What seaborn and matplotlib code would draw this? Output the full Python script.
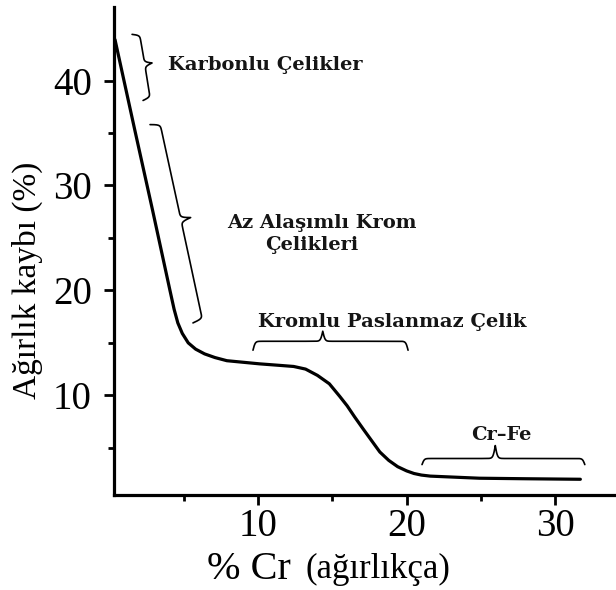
import numpy as np
import pandas as pd
import matplotlib
matplotlib.use("Agg")
import matplotlib.pyplot as plt
import seaborn as sns

# Weight loss (%) versus chromium content (wt %)
cr_content = [0.37, 1.70, 2.89, 4.07, 4.35, 4.6, 4.9, 5.3, 5.8, 6.4, 7.1, 7.9, 10.1,
              11.5, 12.4, 13.2, 14.0, 14.8, 15.5, 16.0, 16.5, 17.1, 18.2, 18.8,
              19.4, 20.0, 20.5, 21.0, 21.6, 24.9, 28.0, 31.7]
weight_loss = [43.9, 35.3, 27.7, 20.0, 18.2, 16.9, 15.9, 15.0, 14.4, 13.95, 13.6, 13.3,
               13.0, 12.85, 12.75, 12.5, 11.9, 11.1, 9.9, 9.0, 7.95, 6.75, 4.6,
               3.8, 3.2, 2.8, 2.55, 2.4, 2.3, 2.1, 2.05, 2.0]

# Steel groups: label text and anchor (data units)
group_labels = ["Karbonlu Çelikler", "Az Alaşımlı Krom", "Çelikleri",
                "Kromlu Paslanmaz Çelik", "Cr–Fe"]
label_x = [3.94, 7.9, 10.5, 10.0, 26.4]
label_y = [41.5, 26.4, 24.3, 17.0, 6.2]
label_ha = ["left", "left", "left", "left", "center"]

# Braces: chord end points (data units), tip height (px), body share, tip position
brace_start = [(1.52, 44.4), (2.73, 35.8), (9.66, 14.3), (21.04, 3.4)]
brace_end = [(2.26, 38.1), (5.62, 16.9), (20.1, 14.3), (32.0, 3.4)]
brace_height = [15, 20, 19, 19]
brace_body = [0.5, 0.5, 0.47, 0.32]
brace_tip = [0.47, 0.49, 0.45, 0.45]

x_ticks = [10, 20, 30]
x_minor = [5, 15, 25]
y_ticks = [10, 20, 30, 40]
y_minor = [5, 15, 25, 35]

sns.set_theme(style="white")
plt.rcParams["font.family"] = ["Liberation Serif", "DejaVu Serif"]

fig = plt.figure(figsize=(6.16, 5.90), dpi=100)
ax = fig.add_axes([0.185, 0.161, 0.815, 0.827])

df = pd.DataFrame({"cr": cr_content, "loss": weight_loss})
sns.lineplot(data=df, x="cr", y="loss", ax=ax, color="black", linewidth=2.3,
             estimator=None, sort=False)
ax.lines[0].set_solid_joinstyle("round")

ax.set_xlim(0.3, 34.1)
ax.set_ylim(0.5, 47.0)

ax.set_xticks(x_ticks)
ax.set_xticks(x_minor, minor=True)
ax.set_yticks(y_ticks)
ax.set_yticks(y_minor, minor=True)
ax.tick_params(axis="both", which="major", direction="out", length=7, width=2,
               labelsize=28, color="black", labelcolor="black")
ax.tick_params(axis="y", which="major", pad=9)
ax.tick_params(axis="x", which="major", pad=2)
ax.tick_params(axis="both", which="minor", direction="out", length=4.5, width=2,
               color="black")
ax.tick_params(axis="x", which="both", bottom=True)
ax.tick_params(axis="y", which="both", left=True)

for side in ["top", "right"]:
    ax.spines[side].set_visible(False)
for side in ["left", "bottom"]:
    ax.spines[side].set_linewidth(2.3)
    ax.spines[side].set_color("black")

ax.set_ylabel("Ağırlık kaybı (%)", fontsize=24, color="black")
ax.yaxis.set_label_coords(-0.142, 0.44)
ax.set_xlabel("")

# x-axis title in two sizes
ax.text(0.186, -0.172, "% Cr", transform=ax.transAxes, fontsize=29,
        ha="left", va="baseline", color="black", clip_on=False)
ax.text(0.381, -0.170, "(ağırlıkça)", transform=ax.transAxes, fontsize=25,
        ha="left", va="baseline", color="black", clip_on=False)

for txt, tx, ty, ha in zip(group_labels, label_x, label_y, label_ha):
    ax.text(tx, ty, txt, fontsize=14, fontweight="bold", ha=ha, va="center",
            family=["DejaVu Serif"], color="#151515")

fig.canvas.draw()
to_disp = ax.transData
to_data = ax.transData.inverted()


def brace_profile(s, length, body, beta):
    # rising hook at s=0 up to the body level, then up to the tip at s=length
    return (body * np.tanh(beta * s / 2)
            + (1 - body) * (1 + np.tanh(beta * (s - length) / 2)))


def draw_brace(p1, p2, height, body, tip):
    a = np.array(to_disp.transform(p1))
    b = np.array(to_disp.transform(p2))
    d = b - a
    length = np.hypot(*d)
    u = d / length
    n = np.array([-u[1], u[0]])
    # tip points right for vertical braces, up for horizontal ones
    if n[0] < -1e-9 or (abs(n[0]) < 1e-9 and n[1] < 0):
        n = -n
    if abs(u[0]) > abs(u[1]) and n[1] < 0:
        n = -n
    beta = 0.9
    l1 = tip * length
    l2 = length - l1
    s1 = np.linspace(0, l1, 300)
    s2 = np.linspace(0, l2, 300)
    h1 = brace_profile(s1, l1, body, beta)
    h2 = brace_profile(s2, l2, body, beta)[::-1]
    s = np.concatenate([s1, l1 + s2])
    h = np.concatenate([h1, h2]) * height
    pts = a + np.outer(s, u) + np.outer(h, n)
    dp = to_data.transform(pts)
    ax.plot(dp[:, 0], dp[:, 1], color="black", linewidth=1.2, clip_on=False,
            solid_joinstyle="round")


for p1, p2, hgt, bd, tp in zip(brace_start, brace_end, brace_height,
                               brace_body, brace_tip):
    draw_brace(p1, p2, hgt, bd, tp)

fig.savefig("out.png", dpi=100)
